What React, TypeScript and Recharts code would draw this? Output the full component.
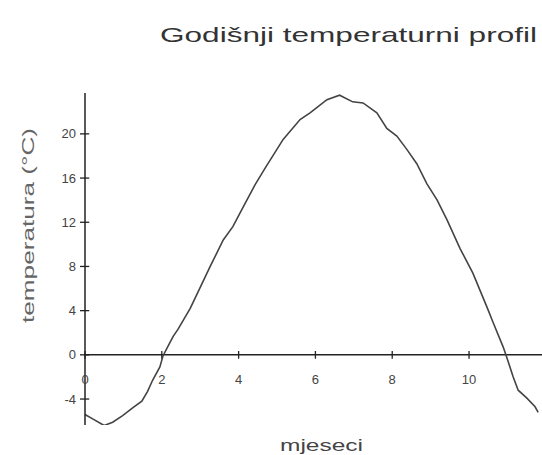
import { LineChart, Line, XAxis, YAxis, ReferenceLine } from 'recharts'

// temperature profile (month, °C)
const months = [
  0.0, 0.2, 0.5, 0.72, 0.98, 1.24, 1.48, 1.63, 1.76, 1.95, 2.03, 2.21, 2.3, 2.42,
  2.74, 3.0, 3.26, 3.6, 3.85, 4.09, 4.43, 4.69, 5.16, 5.6, 5.86, 6.3, 6.63, 6.97,
  7.24, 7.6, 7.86, 8.12, 8.38, 8.64, 8.9, 9.17, 9.43, 9.77, 10.1, 10.47, 10.63,
  10.89, 10.99, 11.15, 11.28, 11.5, 11.72, 11.8,
]
const temps = [
  -5.4, -5.8, -6.4, -6.1, -5.5, -4.8, -4.2, -3.3, -2.3, -1.1, -0.1, 1.1, 1.7, 2.3,
  4.2, 6.1, 8.0, 10.4, 11.6, 13.2, 15.4, 16.9, 19.5, 21.3, 21.9, 23.1, 23.5, 22.9,
  22.8, 21.9, 20.5, 19.8, 18.6, 17.3, 15.5, 14.0, 12.2, 9.6, 7.4, 4.3, 2.9,
  0.7, -0.3, -2.0, -3.2, -3.9, -4.7, -5.2,
]
const yTicks = [-4, 0, 4, 8, 12, 16, 20]
const xTicks = [0, 2, 4, 6, 8, 10]

const title = 'Godišnji temperaturni profil'
const yLabel = 'temperatura (°C)'
const xLabel = 'mjeseci'

const INK = '#222'
const TEXT = '#444'

export default function App() {
  const data = months.map((m, i) => ({ m, t: temps[i] }))

  return (
    <div style={{ position: 'absolute', left: 0, top: 0, width: 542, height: 455, background: '#fff', fontFamily: '"Liberation Sans", Arial, sans-serif' }}>
      <LineChart width={542} height={455} data={data} margin={{ top: 93, right: 0, bottom: 30, left: 40 }}>
        <XAxis dataKey="m" type="number" domain={[0, 11.9]} hide />
        <YAxis
          type="number"
          domain={[-6.35, 23.7]}
          ticks={yTicks}
          interval={0}
          allowDataOverflow
          width={45}
          axisLine={{ stroke: INK, strokeWidth: 1.5 }}
          tickLine={{ stroke: INK, strokeWidth: 1.3 }}
          tickSize={5}
          tickMargin={4}
          tick={{ fontSize: 13, fill: TEXT }}
        />
        <ReferenceLine y={0} stroke={INK} strokeWidth={1.5} />
        {/* inner half of the y ticks */}
        {yTicks.map(v => (
          <ReferenceLine key={`yt-${v}`} segment={[{ x: 0, y: v }, { x: 0.11, y: v }]} stroke={INK} strokeWidth={1.3} />
        ))}
        {/* x ticks sit on the zero line */}
        {xTicks.map(v => (
          <ReferenceLine
            key={`xt-${v}`}
            segment={[{ x: v, y: -0.35 }, { x: v, y: 0.35 }]}
            stroke={INK}
            strokeWidth={1.3}
            label={{ value: String(v), position: 'bottom', offset: 16, fontSize: 13, fill: TEXT }}
          />
        ))}
        <Line type="linear" dataKey="t" stroke="#444" strokeWidth={1.6} dot={false} isAnimationActive={false} />
      </LineChart>
      <svg width={542} height={455} style={{ position: 'absolute', left: 0, top: 0, pointerEvents: 'none' }}>
        <text x={160} y={42} fontSize={21} fill="#333" textLength={377} lengthAdjust="spacingAndGlyphs">{title}</text>
        <text transform="translate(34,323) rotate(-90)" fontSize={16} fill="#666" textLength={195} lengthAdjust="spacingAndGlyphs">{yLabel}</text>
        <text x={280} y={451} fontSize={16} fill="#444" textLength={83} lengthAdjust="spacingAndGlyphs">{xLabel}</text>
      </svg>
    </div>
  )
}
